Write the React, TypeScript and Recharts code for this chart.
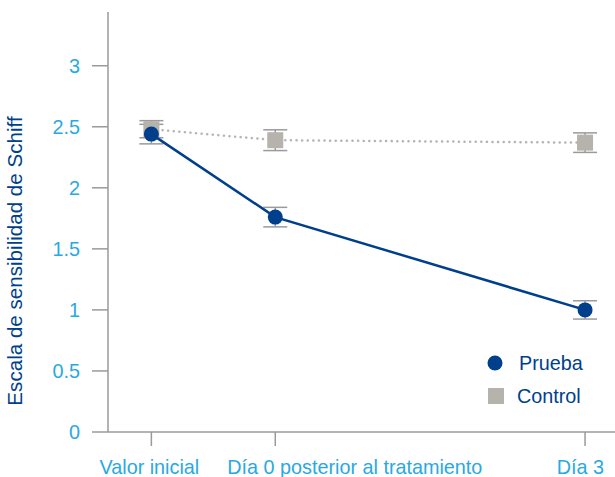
import React from 'react';
import { LineChart, Line, XAxis, YAxis, ErrorBar } from 'recharts';

// x positions of the three time points (Día 0 = 0, Día 3 = 3)
const timePoints = [-1.2, 0, 3];
const timeLabels = ['Valor inicial', 'Día 0 posterior al tratamiento', 'Día 3'];
const prueba = [2.44, 1.76, 1.0];
const pruebaErr = [0.08, 0.08, 0.075];
const control = [2.48, 2.39, 2.37];
const controlErr = [0.07, 0.085, 0.08];
const yTicks = [0, 0.5, 1, 1.5, 2, 2.5, 3];
const seriesNames = ['Prueba', 'Control'];

const DARK_BLUE = '#003f8c';
const LIGHT_BLUE = '#29a9e1';
const GRAY = '#b6b2ac';
const AXIS = '#9a9a9a';
const FONT = '"Liberation Sans", Arial, sans-serif';

const data = timePoints.map((t, i) => ({
  t,
  label: timeLabels[i],
  prueba: prueba[i],
  pruebaErr: pruebaErr[i],
  control: control[i],
  controlErr: controlErr[i],
}));

const XTick = (props: any) => {
  const { x, y, payload } = props;
  const i = timePoints.indexOf(payload.value);
  let anchor = 'middle';
  let dx = -2;
  if (i === 1) {
    anchor = 'start';
    dx = -48;
  } else if (i === 2) {
    anchor = 'end';
    dx = 19;
  }
  return (
    <text x={x + dx} y={y + 26} textAnchor={anchor} fill={LIGHT_BLUE} fontSize={19.8} fontFamily={FONT}>
      {timeLabels[i]}
    </text>
  );
};

const SquareDot = (props: any) => {
  const { cx, cy, index } = props;
  return <rect key={'sq' + index} x={cx - 8} y={cy - 8} width={16} height={16} fill={GRAY} />;
};

const LegendBox = () => (
  <svg width={130} height={60} style={{ position: 'absolute', left: 470, top: 350 }}>
    <circle cx={25} cy={13} r={7.5} fill={DARK_BLUE} />
    <text x={49} y={20} fill={DARK_BLUE} fontSize={19.8} fontFamily={FONT}>{seriesNames[0]}</text>
    <rect x={18} y={38} width={16} height={16} fill={GRAY} />
    <text x={47} y={53} fill={DARK_BLUE} fontSize={19.8} fontFamily={FONT}>{seriesNames[1]}</text>
  </svg>
);

export default function App() {
  return (
    <div style={{ position: 'absolute', left: 0, top: 0, width: 615, height: 477, background: '#fff' }}>
      <LineChart width={615} height={477} data={data} margin={{ top: 12, right: 0, left: 0, bottom: 0 }}>
        <XAxis
          dataKey="t"
          type="number"
          domain={[-1.62, 3.29]}
          ticks={timePoints}
          height={45}
          stroke={AXIS}
          strokeWidth={1.5}
          tickSize={14}
          tick={<XTick />}
          interval={0}
        />
        <YAxis
          type="number"
          domain={[0, 3.44]}
          ticks={yTicks}
          width={108}
          stroke={AXIS}
          strokeWidth={1.5}
          tickSize={16}
          tickMargin={12}
          tick={{ fill: LIGHT_BLUE, fontSize: 19.8, fontFamily: FONT }}
          allowDataOverflow
          label={{
            value: 'Escala de sensibilidad de Schiff',
            angle: -90,
            position: 'insideLeft',
            dx: 10,
            dy: 39,
            style: { textAnchor: 'middle', fill: DARK_BLUE, fontSize: 20.6, fontFamily: FONT },
          }}
        />
        <Line
          dataKey="control"
          name={seriesNames[1]}
          stroke="#b4b4b4"
          strokeWidth={2.5}
          strokeDasharray="0.1 5.5"
          strokeLinecap="round"
          dot={<SquareDot />}
          isAnimationActive={false}
        >
          <ErrorBar dataKey="controlErr" direction="y" width={12} stroke={AXIS} strokeWidth={1.5} />
        </Line>
        <Line
          dataKey="prueba"
          name={seriesNames[0]}
          stroke={DARK_BLUE}
          strokeWidth={2.5}
          dot={{ r: 7.5, fill: DARK_BLUE, stroke: 'none' }}
          isAnimationActive={false}
        >
          <ErrorBar dataKey="pruebaErr" direction="y" width={12} stroke={AXIS} strokeWidth={1.5} />
        </Line>
      </LineChart>
      <LegendBox />
    </div>
  );
}
